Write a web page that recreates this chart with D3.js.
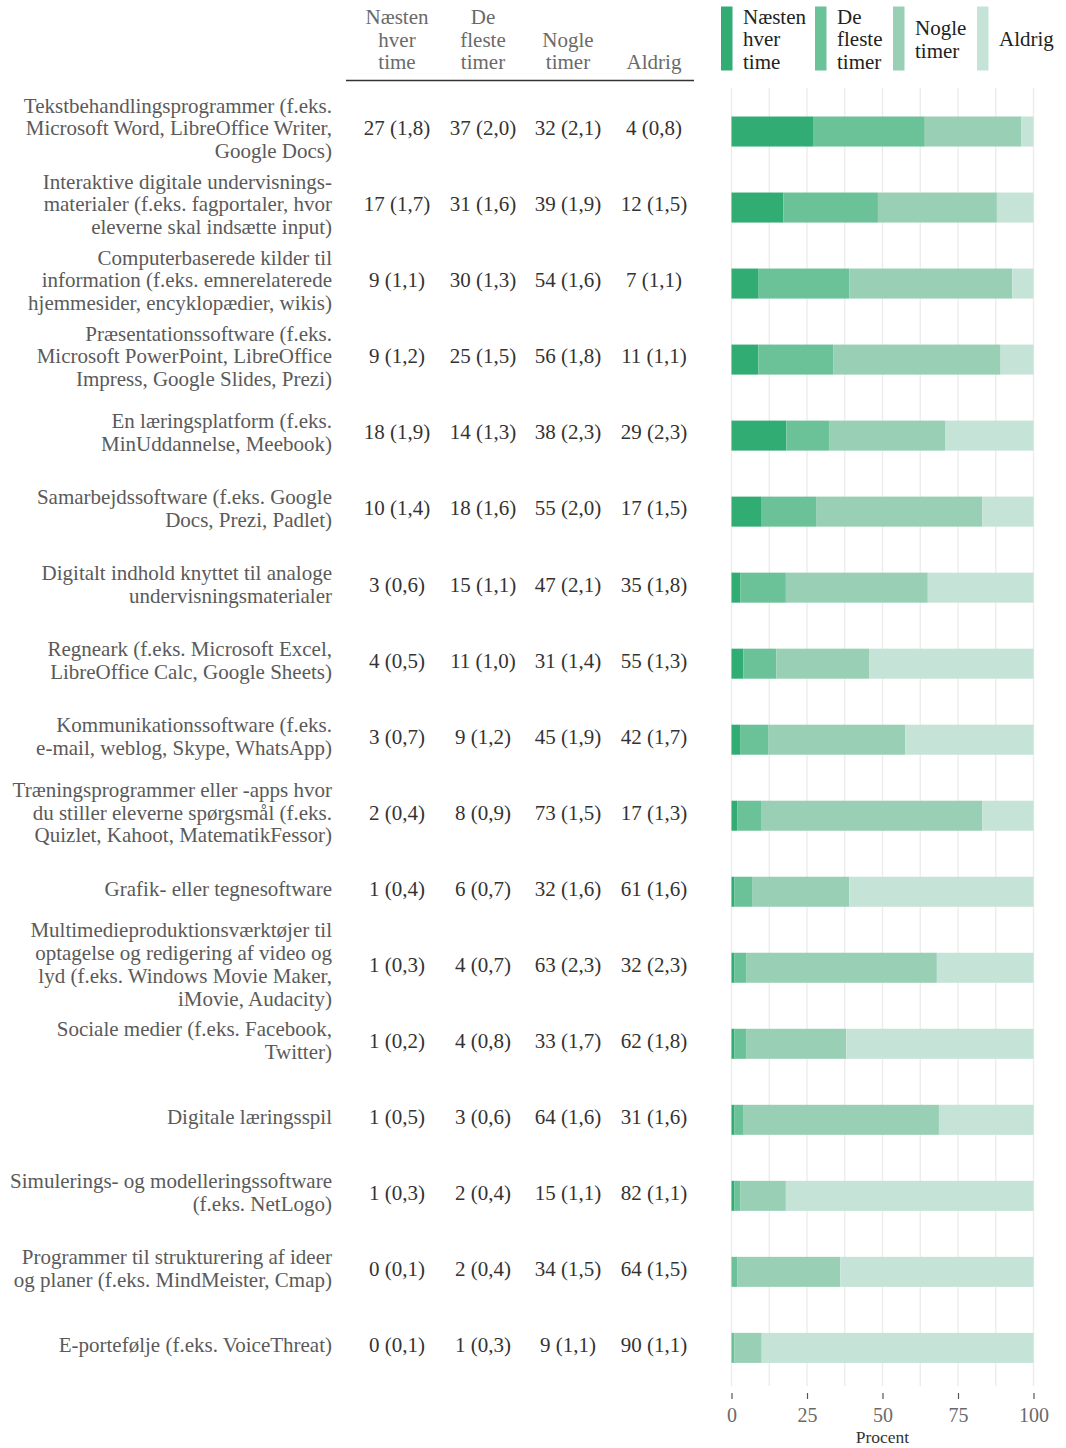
<!DOCTYPE html>
<html>
<head>
<meta charset="utf-8">
<script src="https://cdn.jsdelivr.net/npm/d3@7"></script>
<style>
  html, body { margin: 0; padding: 0; background: #fff; }
  svg { display: block; font-family: "Liberation Serif", "DejaVu Serif", serif; }
</style>
</head>
<body>
<svg id="chart" width="1066" height="1448"></svg>
<script>
// Answer categories (stack order, left to right)
const responses = ["Næsten hver time", "De fleste timer", "Nogle timer", "Aldrig"];
const responseLines = [["Næsten", "hver", "time"], ["De", "fleste", "timer"], ["Nogle", "timer"], ["Aldrig"]];

// Tool types, one entry per row (line breaks as shown)
const tools = [
  ["Tekstbehandlingsprogrammer (f.eks.", "Microsoft Word, LibreOffice Writer,", "Google Docs)"],
  ["Interaktive digitale undervisnings-", "materialer (f.eks. fagportaler, hvor", "eleverne skal indsætte input)"],
  ["Computerbaserede kilder til", "information (f.eks. emnerelaterede", "hjemmesider, encyklopædier, wikis)"],
  ["Præsentationssoftware (f.eks.", "Microsoft PowerPoint, LibreOffice", "Impress, Google Slides, Prezi)"],
  ["En læringsplatform (f.eks.", "MinUddannelse, Meebook)"],
  ["Samarbejdssoftware (f.eks. Google", "Docs, Prezi, Padlet)"],
  ["Digitalt indhold knyttet til analoge", "undervisningsmaterialer"],
  ["Regneark (f.eks. Microsoft Excel,", "LibreOffice Calc, Google Sheets)"],
  ["Kommunikationssoftware (f.eks.", "e-mail, weblog, Skype, WhatsApp)"],
  ["Træningsprogrammer eller -apps hvor", "du stiller eleverne spørgsmål (f.eks.", "Quizlet, Kahoot, MatematikFessor)"],
  ["Grafik- eller tegnesoftware"],
  ["Multimedieproduktionsværktøjer til", "optagelse og redigering af video og", "lyd (f.eks. Windows Movie Maker,", "iMovie, Audacity)"],
  ["Sociale medier (f.eks. Facebook,", "Twitter)"],
  ["Digitale læringsspil"],
  ["Simulerings- og modelleringssoftware", "(f.eks. NetLogo)"],
  ["Programmer til strukturering af ideer", "og planer (f.eks. MindMeister, Cmap)"],
  ["E-portefølje (f.eks. VoiceThreat)"]
];

// Percentages per answer category
const hourly   = [27, 17,  9,  9, 18, 10,  3,  4,  3,  2,  1,  1,  1,  1,  1,  0,  0];
const most     = [37, 31, 30, 25, 14, 18, 15, 11,  9,  8,  6,  4,  4,  3,  2,  2,  1];
const some     = [32, 39, 54, 56, 38, 55, 47, 31, 45, 73, 32, 63, 33, 64, 15, 34,  9];
const never    = [ 4, 12,  7, 11, 29, 17, 35, 55, 42, 17, 61, 32, 62, 31, 82, 64, 90];

// Standard errors
const seHourly = ["1,8", "1,7", "1,1", "1,2", "1,9", "1,4", "0,6", "0,5", "0,7", "0,4", "0,4", "0,3", "0,2", "0,5", "0,3", "0,1", "0,1"];
const seMost   = ["2,0", "1,6", "1,3", "1,5", "1,3", "1,6", "1,1", "1,0", "1,2", "0,9", "0,7", "0,7", "0,8", "0,6", "0,4", "0,4", "0,3"];
const seSome   = ["2,1", "1,9", "1,6", "1,8", "2,3", "2,0", "2,1", "1,4", "1,9", "1,5", "1,6", "2,3", "1,7", "1,6", "1,1", "1,5", "1,1"];
const seNever  = ["0,8", "1,5", "1,1", "1,1", "2,3", "1,5", "1,8", "1,3", "1,7", "1,3", "1,6", "2,3", "1,8", "1,6", "1,1", "1,5", "1,1"];

const xTicks = [0, 25, 50, 75, 100];
const colors = ["#31ad73", "#6bc198", "#98cfb5", "#c5e3d7"];

const valueCols = [hourly, most, some, never];
const seCols = [seHourly, seMost, seSome, seNever];

const rows = tools.map((lines, i) => {
  const r = { idx: i, lines };
  responses.forEach((k, j) => { r[k] = valueCols[j][i]; });
  return r;
});

const svg = d3.select("#chart");

// Layout
const plotLeft = 731.5, plotRight = 1033.5;
const bandTop = 93.7, bandBottom = 1385.7;
const fs = 21;

const x = d3.scaleLinear().domain([0, 1]).range([plotLeft, plotRight]);
const xPct = d3.scaleLinear().domain([0, 100]).range([plotLeft, plotRight]);
const y = d3.scaleBand().domain(d3.range(rows.length)).range([bandTop, bandBottom]).paddingInner(0.605).paddingOuter(0.3);

// Light grid, major and half-step lines
const gridVals = d3.range(0, 100.01, 12.5);
svg.append("g").selectAll("line").data(gridVals).join("line")
  .attr("x1", d => xPct(d)).attr("x2", d => xPct(d))
  .attr("y1", 88).attr("y2", 1386)
  .attr("stroke", "#ebebeb").attr("stroke-width", 1.3);

// Stacked bars normalised to 100 %
const stack = d3.stack().keys(responses).offset(d3.stackOffsetExpand);
const series = stack(rows);

svg.append("g").selectAll("g").data(series).join("g")
  .attr("fill", (d, i) => colors[i])
  .selectAll("rect").data(d => d).join("rect")
  .attr("x", d => x(d[0]))
  .attr("width", d => Math.max(0, x(d[1]) - x(d[0])))
  .attr("y", (d, i) => y(i))
  .attr("height", y.bandwidth());

// Row labels
const labelG = svg.append("g")
  .attr("font-size", fs).attr("fill", "#5a5a5a").attr("text-anchor", "end");
const lineH = 22.8;
rows.forEach((r, i) => {
  const cy = y(i) + y.bandwidth() / 2 - 3.5;
  const n = r.lines.length;
  const t = labelG.append("text").attr("x", 332)
    .attr("y", cy - (n - 1) * lineH / 2);
  r.lines.forEach((ln, k) => {
    t.append("tspan").attr("x", 332).attr("dy", k === 0 ? "0.35em" : lineH).text(ln);
  });
});

// Table of percentages with standard errors
const colX = [397, 483, 568, 654];
const tableG = svg.append("g")
  .attr("font-size", fs).attr("fill", "#333").attr("text-anchor", "middle");
rows.forEach((r, i) => {
  const cy = y(i) + y.bandwidth() / 2 - 3.5;
  colX.forEach((cx, j) => {
    tableG.append("text").attr("x", cx).attr("y", cy).attr("dy", "0.35em")
      .text(`${valueCols[j][i]} (${seCols[j][i]})`);
  });
});

// Table header
const headG = svg.append("g")
  .attr("font-size", fs).attr("fill", "#6a6a6a").attr("text-anchor", "middle");
responseLines.forEach((lines, j) => {
  const n = lines.length;
  lines.forEach((ln, k) => {
    headG.append("text").attr("x", colX[j])
      .attr("y", 62 - (n - 1 - k) * 22.5).attr("dy", "0.35em").text(ln);
  });
});
svg.append("line").attr("x1", 346).attr("x2", 694).attr("y1", 80.5).attr("y2", 80.5)
  .attr("stroke", "#333").attr("stroke-width", 1.5);

// Legend
const legX = [721, 815, 893, 977];
const legG = svg.append("g").attr("font-size", fs).attr("fill", "#222");
responseLines.forEach((lines, j) => {
  legG.append("rect").attr("x", legX[j]).attr("y", 6.5).attr("width", 11.5).attr("height", 64)
    .attr("fill", colors[j]);
  const n = lines.length;
  lines.forEach((ln, k) => {
    legG.append("text").attr("x", legX[j] + 22)
      .attr("y", 39 + (k - (n - 1) / 2) * 22.5).attr("dy", "0.35em").text(ln);
  });
});

// X axis
const axis = svg.append("g").attr("transform", "translate(0,1393)")
  .call(d3.axisBottom(xPct).tickValues(xTicks).tickSize(6).tickPadding(9));
axis.select(".domain").remove();
axis.selectAll(".tick line").attr("stroke", "#555").attr("stroke-width", 1.2);
axis.selectAll(".tick text").attr("font-family", "Liberation Serif, serif")
  .attr("font-size", 20).attr("fill", "#6a6a6a");

svg.append("text").attr("x", (plotLeft + plotRight) / 2).attr("y", 1438).attr("dy", "0.3em")
  .attr("text-anchor", "middle").attr("font-size", 17.5).attr("fill", "#333").text("Procent");
</script>
</body>
</html>
